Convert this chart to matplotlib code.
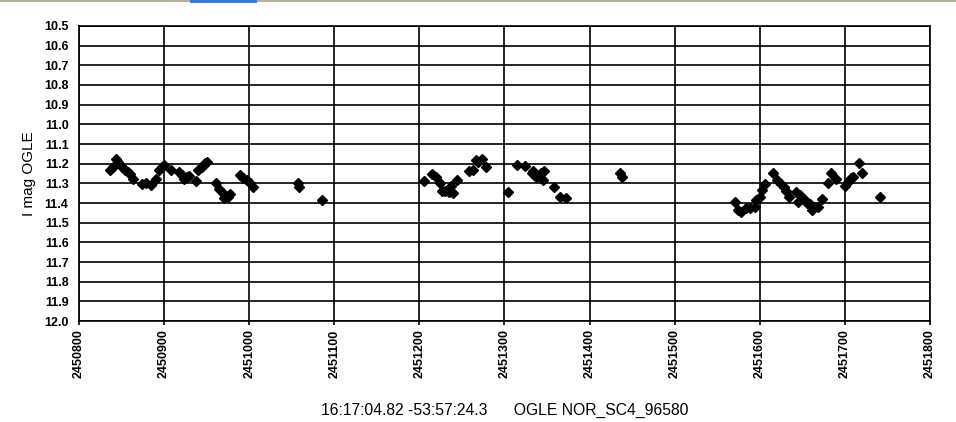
import numpy as np
import matplotlib.pyplot as plt
from matplotlib.lines import Line2D

# Julian dates and I magnitudes
jd = [2450836, 2450840, 2450844, 2450846, 2450850, 2450854, 2450858, 2450860,
      2450863, 2450874.5, 2450879, 2450885, 2450890, 2450894, 2450897, 2450900,
      2450908.5, 2450918, 2450921.5, 2450924, 2450927, 2450929, 2450937, 2450940,
      2450944, 2450948, 2450950, 2450961, 2450965, 2450969, 2450971, 2450975,
      2450978, 2450989, 2450993, 2450997, 2451000.5, 2451004.5,
      2451057, 2451059, 2451086,
      2451205, 2451215, 2451220, 2451224, 2451227, 2451230, 2451235, 2451237,
      2451239, 2451244, 2451258, 2451263, 2451266, 2451269, 2451273, 2451278,
      2451304, 2451315, 2451324, 2451332, 2451334, 2451337, 2451343, 2451345,
      2451347, 2451358, 2451365.5, 2451372,
      2451436, 2451438.5,
      2451570.5, 2451574, 2451578, 2451584, 2451589, 2451594, 2451596, 2451600,
      2451602.6, 2451605.7, 2451615.5, 2451620.6, 2451624.5, 2451628.4, 2451631,
      2451634, 2451643, 2451647, 2451645, 2451653, 2451656, 2451659, 2451661.5,
      2451664, 2451668, 2451673, 2451680, 2451684, 2451689, 2451700, 2451704,
      2451707, 2451710, 2451716, 2451720, 2451741]
imag = [11.232, 11.215, 11.178, 11.19, 11.215, 11.23, 11.24, 11.25,
        11.28, 11.305, 11.30, 11.31, 11.28, 11.232, 11.218, 11.207,
        11.232, 11.24, 11.258, 11.28, 11.27, 11.262, 11.287, 11.232,
        11.215, 11.195, 11.19, 11.30, 11.33, 11.35, 11.376, 11.368,
        11.356, 11.257, 11.274, 11.283, 11.30, 11.32,
        11.30, 11.32, 11.385,
        11.287, 11.254, 11.266, 11.297, 11.337, 11.339, 11.342, 11.312,
        11.347, 11.283, 11.235, 11.234, 11.18, 11.193, 11.178, 11.215,
        11.342, 11.205, 11.21, 11.246, 11.235, 11.266, 11.246, 11.283,
        11.235, 11.317, 11.368, 11.373,
        11.247, 11.268,
        11.393, 11.435, 11.444, 11.424, 11.424, 11.418, 11.385, 11.368,
        11.334, 11.305, 11.249, 11.283, 11.305, 11.317, 11.339,
        11.368, 11.346, 11.359, 11.393, 11.385, 11.40, 11.407, 11.435,
        11.418, 11.418, 11.38, 11.30, 11.249, 11.278, 11.312, 11.295,
        11.274, 11.266, 11.198, 11.249, 11.37]

xticks = np.arange(2450800, 2451801, 100)
yticks = np.arange(10.5, 12.01, 0.1)

plt.rcParams['font.family'] = ['Liberation Sans', 'DejaVu Sans']

fig = plt.figure(figsize=(9.56, 4.22), dpi=100)
ax = fig.add_axes([0.0826, 0.2393, 0.8902, 0.6991])

ax.plot(jd, imag, 'D', color='black', markersize=4.6, linestyle='none')

ax.set_xlim(2450800, 2451800)
ax.set_ylim(12.0, 10.5)
ax.set_xticks(xticks)
ax.set_xticklabels([str(t) for t in xticks], rotation=90, fontsize=9, fontweight='bold')
ax.set_yticks(yticks)
ax.set_yticklabels(['%.1f' % t for t in yticks], fontsize=9, fontweight='bold')
ax.grid(True, color='black', linewidth=1.2)
ax.set_axisbelow(True)
for s in ax.spines.values():
    s.set_linewidth(1.2)
ax.tick_params(axis='x', length=3, width=1.2, pad=3)
ax.tick_params(axis='y', length=0, pad=7.5)

ax.set_ylabel('I mag OGLE', fontsize=11, labelpad=6)
fig.text(0.5283, 0.018, '16:17:04.82 -53:57:24.3      OGLE NOR_SC4_96580',
         ha='center', va='baseline', fontsize=11.3)

# window chrome at the top edge
fig.add_artist(Line2D([0, 1], [0.998, 0.998], color='#b5b0a0', linewidth=1.5))
fig.add_artist(Line2D([191 / 956, 255 / 956], [0.998, 0.998], color='#2f6fd6', linewidth=2))

fig.savefig('out.png', dpi=100)
